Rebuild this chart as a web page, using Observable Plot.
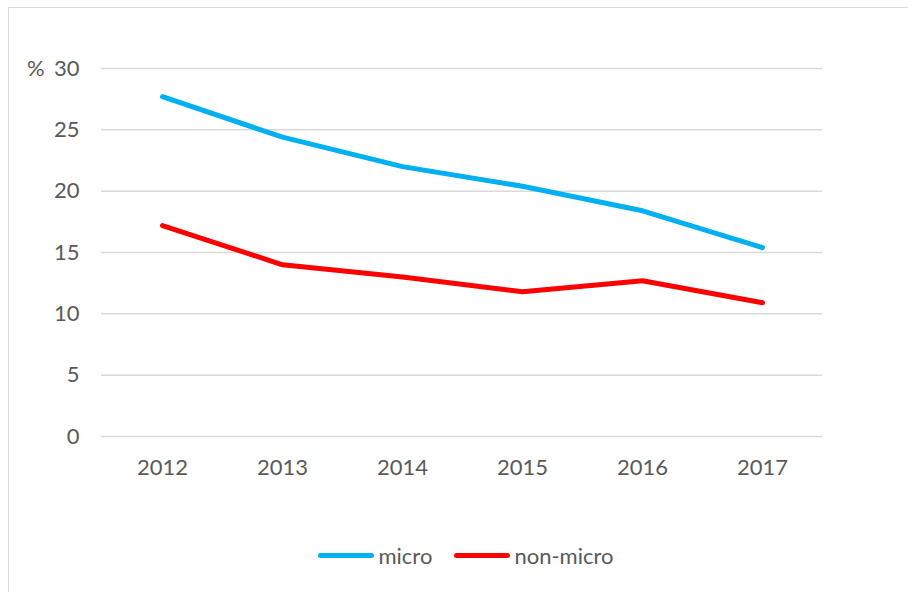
<!DOCTYPE html>
<html>
<head>
<meta charset="utf-8">
<script src="https://cdn.jsdelivr.net/npm/d3@7"></script>
<script src="https://cdn.jsdelivr.net/npm/@observablehq/plot@0.6"></script>
<style>
  html, body { margin: 0; padding: 0; background: #fff; }
  #wrap { position: relative; width: 908px; height: 592px; overflow: hidden; font-family: Lato, "Open Sans", sans-serif; }
  #frame { position: absolute; left: 8px; top: 7px; width: 1000px; height: 1000px; border: 1.5px solid #d9d9d9; box-sizing: border-box; }
  #chart { position: absolute; left: 0; top: 0; }
  #legend { position: absolute; top: 542px; left: 0; width: 908px; display: flex; justify-content: center; gap: 22px; font-size: 22px; color: #595959; padding-left: 24px; box-sizing: border-box; }
  .item { display: flex; align-items: center; gap: 4px; }
  .sw { width: 56px; height: 5px; border-radius: 3px; }
  #pct { position: absolute; left: 27px; top: 54px; font-size: 22px; color: #595959; }
</style>
</head>
<body>
<div id="wrap">
  <div id="frame"></div>
  <div id="chart"></div>
  <div id="pct">%</div>
  <div id="legend"></div>
</div>
<script>
const years = ["2012", "2013", "2014", "2015", "2016", "2017"];
const micro = [27.7, 24.4, 22.0, 20.4, 18.4, 15.4];
const nonMicro = [17.2, 14.0, 13.0, 11.8, 12.7, 10.9];
const seriesNames = ["micro", "non-micro"];
const seriesColors = ["#00B0F0", "#FF0000"];
const yTicks = [0, 5, 10, 15, 20, 25, 30];

const data = [
  ...years.map((y, i) => ({year: y, value: micro[i], series: seriesNames[0]})),
  ...years.map((y, i) => ({year: y, value: nonMicro[i], series: seriesNames[1]}))
];

const chart = Plot.plot({
  width: 908,
  height: 592,
  marginLeft: 101,
  marginRight: 86,
  marginTop: 68,
  marginBottom: 156,
  style: { fontFamily: "Lato, 'Open Sans', sans-serif", fontSize: "22px", color: "#595959", background: "transparent" },
  x: { type: "point", domain: years, padding: 0.5, label: null },
  y: { domain: [0, 30], label: null },
  color: { domain: seriesNames, range: seriesColors },
  marks: [
    Plot.ruleY(yTicks, { stroke: "#d9d9d9", strokeWidth: 1.5 }),
    Plot.axisY({ ticks: yTicks, tickSize: 0, tickPadding: 22, fill: "#595959", label: null }),
    Plot.axisX({ tickSize: 0, tickPadding: 23, fill: "#595959", label: null }),
    Plot.line(data, { x: "year", y: "value", z: "series", stroke: "series", strokeWidth: 5, strokeLinecap: "round", strokeLinejoin: "round" })
  ]
});
document.getElementById("chart").appendChild(chart);

const legend = document.getElementById("legend");
seriesNames.forEach((n, i) => {
  const it = document.createElement("div");
  it.className = "item";
  const sw = document.createElement("div");
  sw.className = "sw";
  sw.style.background = seriesColors[i];
  const t = document.createElement("span");
  t.textContent = n;
  it.appendChild(sw); it.appendChild(t);
  legend.appendChild(it);
});
</script>
</body>
</html>
